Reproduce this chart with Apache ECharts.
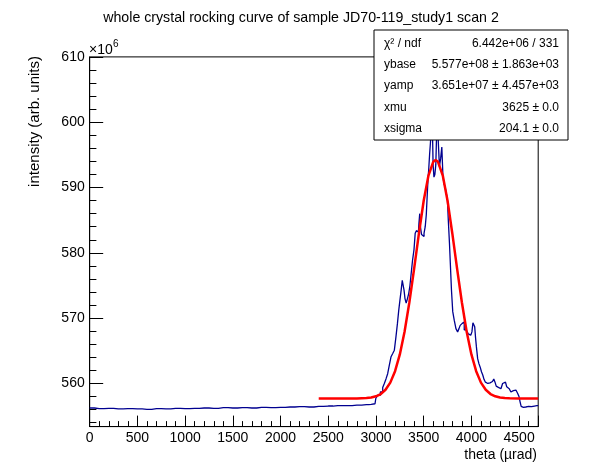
<!DOCTYPE html>
<html>
<head>
<meta charset="utf-8">
<script src="https://cdn.jsdelivr.net/npm/echarts@6/dist/echarts.min.js"></script>
<style>html,body{margin:0;padding:0;background:#fff}#c{width:598px;height:474px}</style>
</head>
<body>
<div id="c"></div>
<script>
// ---- data (intensity in units of 1e6) ----
const titleText = 'whole crystal rocking curve of sample JD70-119_study1 scan 2';
const xTitle = 'theta (\u00b5rad)';
const yTitle = 'intensity (arb. units)';

// measured histogram (blue)
const dataX = [0,100,200,300,400,500,600,700,800,900,1000,1100,1200,1300,1400,1500,1600,1700,1800,1900,2000,2100,2200,2300,2400,2500,2600,2700,2800,2900,2950,
  2990,3006,3030,3061,3080,3095,3115,3130,3150,3166,3185,3200,3218,3232,3245,3258,3270,3281,3290,3298,3310,3323,3337,3350,3362,3375,3392,3405,3417,3430,3445,3455,3462,3470,3485,3497,3510,3522,3532,3540,3549,3558,3567,3576,3585,3594,3603,3612,3622,3632,3640,3648,3658,3672,3684,3696,3706,3717,3732,3745,3753,3763,3777,3784,3798,3811,3829,3847,3864,3876,3889,3904,3916,3934,3958,3975,3986,4000,4011,4021,4030,4039,4048,4057,4074,4085,4099,4112,4126,4140,4154,4166,4178,4195,4214,4228,4241,4254,4266,4283,4301,4318,4336,4350,4364,4376,4388,4405,4423,4440,4458,4475,4493,4505,4515,4528,4545,4570,4600,4630,4660,4686,4700];
const dataY = [556.25,556.15,556.2,556.1,556.15,556.1,556.05,556.15,556.1,556.2,556.15,556.2,556.25,556.2,556.3,556.25,556.3,556.25,556.35,556.3,556.35,556.4,556.45,556.4,556.5,556.55,556.6,556.6,556.7,556.75,556.8,
  556.9,557.7,558.2,558.7,559.4,560.0,560.7,561.5,562.8,564.1,564.6,565.1,567.1,569.2,571.2,572.8,574.3,575.8,575.5,574.3,573.0,572.3,573.0,573.8,575.0,576.8,578.9,580.5,583.0,583.4,583.2,584.5,586.0,584.0,582.8,582.5,583.0,584.0,585.8,588.5,591.1,593.0,595.2,597.0,601.5,600.5,593.5,591.6,592.0,593.5,598.5,603.0,597.0,593.2,594.5,596.2,592.0,590.6,590.1,589.0,588.1,585.0,581.5,577.9,574.3,571.0,569.7,568.4,567.9,568.4,568.9,569.2,569.4,568.2,567.9,567.6,567.4,567.7,567.9,569.3,569.0,568.7,567.0,565.6,563.8,563.0,562.5,561.8,561.3,560.6,560.2,560.1,560.0,560.1,560.2,560.3,560.7,560.2,559.6,559.4,559.2,559.5,560.0,560.2,560.0,559.5,559.2,558.9,558.7,558.9,559.0,558.7,558.5,558.0,557.2,556.5,556.35,556.4,556.5,556.45,556.55,556.6,556.6];

// fitted curve (red)
const fitX = [2400,2500,2600,2700,2800,2900,2950,3000,3050,3100,3150,3200,3250,3300,3350,3400,3450,3500,3550,3600,3625,3650,3700,3750,3800,3850,3900,3950,4000,4050,4100,4150,4200,4250,4300,4350,4400,4500,4600,4700];
const fitY = [557.70,557.70,557.70,557.70,557.71,557.77,557.85,558.04,558.39,559.04,560.13,561.88,564.45,567.97,572.43,577.58,582.97,587.97,591.83,593.94,594.21,593.94,591.83,587.97,582.97,577.58,572.43,567.97,564.45,561.88,560.13,559.04,558.39,558.04,557.85,557.77,557.73,557.70,557.70,557.70];

// stats box
const statNames = ['\u03c7\u00b2 / ndf','ybase','yamp','xmu','xsigma'];
const statValues = ['6.442e+06 / 331','5.577e+08 \u00b1 1.863e+03','3.651e+07 \u00b1 4.457e+03','3625 \u00b1 0.0','204.1 \u00b1 0.0'];

// ---- chart ----
const FONT = "'Liberation Sans', Arial, Helvetica, sans-serif";
const X0 = 89.7, X1 = 538.2, Y0 = 56.9, Y1 = 426.6;
const chart = echarts.init(document.getElementById('c'), null, {renderer: 'canvas'});

const blue = dataX.map((x, i) => [x, dataY[i]]);
const red = fitX.map((x, i) => [x, fitY[i]]);

const graphics = [
  {type: 'text', x: 301, y: 18, z: 100, style: {text: titleText, font: '14.2px ' + FONT, fill: '#000', textAlign: 'center', textVerticalAlign: 'middle'}},
  {type: 'text', x: 537, y: 455, z: 100, style: {text: xTitle, font: '14px ' + FONT, fill: '#000', textAlign: 'right', textVerticalAlign: 'middle'}},
  {type: 'text', x: 35, y: 56, rotation: Math.PI / 2, z: 100, style: {text: yTitle, font: '15px ' + FONT, fill: '#000', textAlign: 'right', textVerticalAlign: 'middle'}},
  {type: 'text', x: 89, y: 50, z: 100, style: {text: '\u00d710', font: '14px ' + FONT, fill: '#000', textAlign: 'left', textVerticalAlign: 'middle'}},
  {type: 'text', x: 113, y: 44, z: 100, style: {text: '6', font: '10px ' + FONT, fill: '#000', textAlign: 'left', textVerticalAlign: 'middle'}},
  {type: 'rect', shape: {x: 374, y: 30, width: 194, height: 110}, z: 100, style: {fill: '#fff', stroke: '#000', lineWidth: 1}}
];
statNames.forEach((n, i) => {
  const y = 43.5 + 21.3 * i;
  graphics.push({type: 'text', x: 384, y: y, z: 101, style: {text: n, font: '12px ' + FONT, fill: '#000', textAlign: 'left', textVerticalAlign: 'middle'}});
  graphics.push({type: 'text', x: 559, y: y, z: 101, style: {text: statValues[i], font: '12px ' + FONT, fill: '#000', textAlign: 'right', textVerticalAlign: 'middle'}});
});

const labelStyle = {color: '#000', fontSize: 14, fontFamily: FONT};

chart.setOption({
  animation: false,
  backgroundColor: '#fff',
  grid: {left: X0, right: 598 - X1, top: Y0, bottom: 474 - Y1, show: true, borderColor: '#000', borderWidth: 1, backgroundColor: 'transparent', containLabel: false, outerBoundsMode: 'none'},
  xAxis: [
    {type: 'value', min: 0, max: 4700, interval: 500, position: 'bottom',
     axisLine: {show: true, onZero: false, lineStyle: {color: '#000', width: 1}},
     axisTick: {show: true, inside: true, length: 11, lineStyle: {color: '#000', width: 1}},
     axisLabel: Object.assign({margin: 5, formatter: v => (Math.abs(v / 500 - Math.round(v / 500)) < 1e-6 ? String(Math.round(v)) : '')}, labelStyle),
     splitLine: {show: false}},
    {type: 'value', min: 0, max: 4700, interval: 100, position: 'bottom',
     axisLine: {show: false, onZero: false},
     axisTick: {show: true, inside: true, length: 5.5, lineStyle: {color: '#000', width: 1}},
     axisLabel: {show: false}, splitLine: {show: false}}
  ],
  yAxis: [
    {type: 'value', min: 553.4, max: 610, splitNumber: 5, position: 'left',
     axisLine: {show: true, onZero: false, lineStyle: {color: '#000', width: 1}},
     axisTick: {show: true, inside: true, length: 13.5, lineStyle: {color: '#000', width: 1}},
     axisLabel: Object.assign({margin: 5, formatter: v => (Math.abs(v / 10 - Math.round(v / 10)) < 1e-6 ? String(Math.round(v)) : '')}, labelStyle),
     splitLine: {show: false}},
    {type: 'value', min: 553.4, max: 610, splitNumber: 28, position: 'left',
     axisLine: {show: false, onZero: false},
     axisTick: {show: true, inside: true, length: 6.7, lineStyle: {color: '#000', width: 1}},
     axisLabel: {show: false}, splitLine: {show: false}}
  ],
  series: [
    {type: 'line', name: 'data', data: blue, step: 'middle', showSymbol: false, symbol: 'none', clip: true, z: 2,
     lineStyle: {color: '#000090', width: 1.3}, itemStyle: {color: '#000090'}},
    {type: 'line', name: 'fit', data: red, showSymbol: false, symbol: 'none', clip: true, z: 3,
     lineStyle: {color: '#ff0000', width: 2.5}, itemStyle: {color: '#ff0000'}}
  ],
  graphic: graphics
});
</script>
</body>
</html>
